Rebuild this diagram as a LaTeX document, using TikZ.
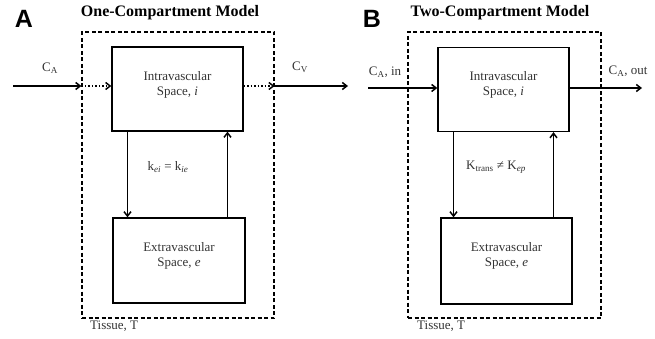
\documentclass[tikz,border=0pt]{standalone}
\usepackage{fontspec}
\setmainfont{Liberation Serif}
\newfontfamily\panelfont{Liberation Sans}
\usetikzlibrary{arrows.meta, positioning}

\begin{document}
\begin{tikzpicture}[
    x=1pt, y=-1pt,
    comp/.style={draw, line width=1.3pt, minimum width=131pt, minimum height=84pt, inner sep=0pt},
    tissue/.style={draw, line width=1.2pt, dash pattern=on 4pt off 2.5pt, minimum width=192pt, minimum height=286pt, inner sep=0pt},
    txt/.style={font=\fontsize{13}{15}\selectfont, text=black!80, align=center, inner sep=1pt},
    title/.style={font=\fontsize{16}{18}\selectfont\bfseries},
    panel/.style={font=\fontsize{25}{26}\selectfont\panelfont\bfseries},
    flow/.style={-{Straight Barb[length=4.5pt,width=7pt]}, line width=1.5pt},
    leak/.style={flow, dotted},
]
\useasboundingbox (0,0) rectangle (655,339);

% --- Panel A: one compartment ---
\node[panel] (pa) at (24,19) {A};
\node[title] (ta) at (170,13) {One-Compartment Model};
\node[tissue] (atis) at (178,175) {};
\node[comp] (aint) at (177.5,89) {};
\node[comp, minimum width=132pt, minimum height=85pt] (aext) at (179,260.5) {};
\node[txt] (ainttxt) at (177.5,85) {Intravascular\\Space, \textit{i}};
\node[txt] (aexttxt) at (179,256) {Extravascular\\Space, \textit{e}};
\node[txt, anchor=north west] (atistxt) at (89,320) {Tissue, T};
\node[txt] (ak) at (168,167) {k\textsubscript{\textit{ei}} = k\textsubscript{\textit{ie}}};
\node[txt] (aca) at (50,68) {C\textsubscript{A}};
\node[txt] (acv) at (300,67) {C\textsubscript{V}};
\coordinate (ain) at (13,86);
\coordinate (aout) at (348,86);

% --- Panel B: two compartments ---
\node[panel] (pb) at (372,19) {B};
\node[title] (tb) at (500,13) {Two-Compartment Model};
\node[tissue, minimum width=193pt] (btis) at (504.5,175) {};
\node[comp] (bint) at (503.5,89.5) {};
\node[comp, minimum height=86pt] (bext) at (506.5,261) {};
\node[txt] (binttxt) at (503.5,85) {Intravascular\\Space, \textit{i}};
\node[txt] (bexttxt) at (506.5,256) {Extravascular\\Space, \textit{e}};
\node[txt, anchor=north west] (btistxt) at (416,320) {Tissue, T};
\node[txt] (bk) at (496,167) {K\textsubscript{trans} ≠ K\textsubscript{\textit{ep}}};
\node[txt] (bcin) at (385,72) {C\textsubscript{A}, in};
\node[txt] (bcout) at (628,71) {C\textsubscript{A}, out};
\coordinate (bin) at (368,88);
\coordinate (bout) at (642,88);

% --- Arrows A ---
\draw[flow] (ain) -- (ain -| atis.west);
\draw[leak] (ain -| atis.west) -- (ain -| aint.west);
\draw[leak] (ain -| aint.east) -- (ain -| atis.east);
\draw[flow] (ain -| atis.east) -- (aout);
\draw[flow] ([xshift=-50]aint.south) -- ([xshift=-50]aint.south |- aext.north);
\draw[flow] ([xshift=50]aint.south |- aext.north) -- ([xshift=50]aint.south);

% --- Arrows B ---
\draw[flow] (bin) -- (bin -| bint.west);
\draw[flow] (bin -| bint.east) -- (bout);
\draw[flow] ([xshift=-50]bint.south) -- ([xshift=-50]bint.south |- bext.north);
\draw[flow] ([xshift=50]bint.south |- bext.north) -- ([xshift=50]bint.south);

\end{tikzpicture}
\end{document}
